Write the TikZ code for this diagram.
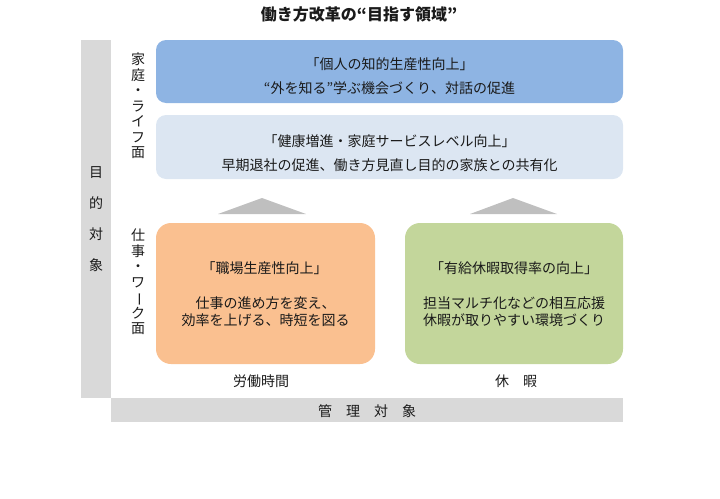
\documentclass[tikz,border=0pt]{standalone}
\usepackage{fontspec}
\setmainfont[Kerning=Off]{Noto Sans CJK JP}
\definecolor{bargray}{HTML}{D9D9D9}
\definecolor{trigray}{HTML}{BFBFBF}
\definecolor{boxblue}{HTML}{8EB4E3}
\definecolor{boxpale}{HTML}{DCE6F2}
\definecolor{boxorange}{HTML}{FAC090}
\definecolor{boxgreen}{HTML}{C3D69B}
\definecolor{txt}{HTML}{1A1A1A}
\tikzset{
  panel/.style={draw=none, rounded corners=10pt, inner sep=0pt, minimum width=467pt, minimum height=63pt},
  bigpanel/.style={draw=none, rounded corners=15pt, inner sep=0pt, minimum width=219pt, minimum height=141pt},
  bar/.style={fill=bargray, draw=none, inner sep=0pt},
  lbl/.style={text=txt, font=\fontsize{14}{16}\selectfont, inner sep=0pt, anchor=center},
  vlbl/.style={text=txt, font=\fontsize{14}{15.5}\selectfont, inner sep=0pt, align=center},
  arrowtri/.style={fill=trigray, draw=none}
}
\begin{document}
\begin{tikzpicture}[x=1pt, y=-1pt]
\useasboundingbox (0,0) rectangle (720,498);
% title
\node[text=txt, font=\fontsize{16}{18}\selectfont\bfseries, inner sep=0pt] (title) at (359,14) {働き方改革の“目指す領域”};
% side bars
\node[bar, minimum width=30pt, minimum height=358pt] (vbar) at (96,219) {};
\node[bar, minimum width=512pt, minimum height=24pt] (hbar) at (367,410) {};
\node[text=txt, font=\fontsize{14}{31}\selectfont, inner sep=0pt, align=center] (purpose) at (96,219) {目\\的\\対\\象};
\node[lbl] (manage) at (367,411) {管　理　対　象};
% vertical category labels
\node[vlbl] (home) at (138,106) {家\\庭\\・\\ラ\\イ\\フ\\面};
\node[vlbl] (work) at (138,282) {仕\\事\\・\\ワ\\\rotatebox[origin=c]{-90}{ー}\\ク\\面};
% top panels
\node[panel, fill=boxblue] (b1) at (389.5,71.5) {};
\node[lbl] (b1a) at (389.5,64) {「個人の知的生産性向上」};
\node[lbl] (b1b) at (389.5,88) {“外を知る”学ぶ機会づくり、対話の促進};
\node[panel, fill=boxpale, minimum height=64pt] (b2) at (389.5,147) {};
\node[lbl] (b2a) at (389.5,141) {「健康増進・家庭サービスレベル向上」};
\node[lbl] (b2b) at (389.5,165) {早期退社の促進、働き方見直し目的の家族との共有化};
% triangles
\coordinate (t1l) at (218,214); \coordinate (t1t) at (262,198); \coordinate (t1r) at (306,214);
\coordinate (t2l) at (470,214); \coordinate (t2t) at (513,198); \coordinate (t2r) at (557,214);
\fill[arrowtri] (t1l) -- (t1t) -- (t1r) -- cycle;
\fill[arrowtri] (t2l) -- (t2t) -- (t2r) -- cycle;
% bottom panels
\node[bigpanel, fill=boxorange] (b3) at (265.5,293.5) {};
\node[lbl] (b3a) at (264.5,268) {「職場生産性向上」};
\node[lbl] (b3b) at (265.5,303) {仕事の進め方を変え、};
\node[lbl] (b3c) at (265.5,320) {効率を上げる、時短を図る};
\node[bigpanel, fill=boxgreen, minimum width=218pt] (b4) at (514,293.5) {};
\node[lbl] (b4a) at (514,268) {「有給休暇取得率の向上」};
\node[lbl] (b4b) at (514,303) {担当マルチ化などの相互応援};
\node[lbl] (b4c) at (514,320) {休暇が取りやすい環境づくり};
% bottom labels
\node[lbl] (labor) at (261,381) {労働時間};
\node[lbl] (leave) at (516,381) {休　暇};
\end{tikzpicture}
\end{document}
